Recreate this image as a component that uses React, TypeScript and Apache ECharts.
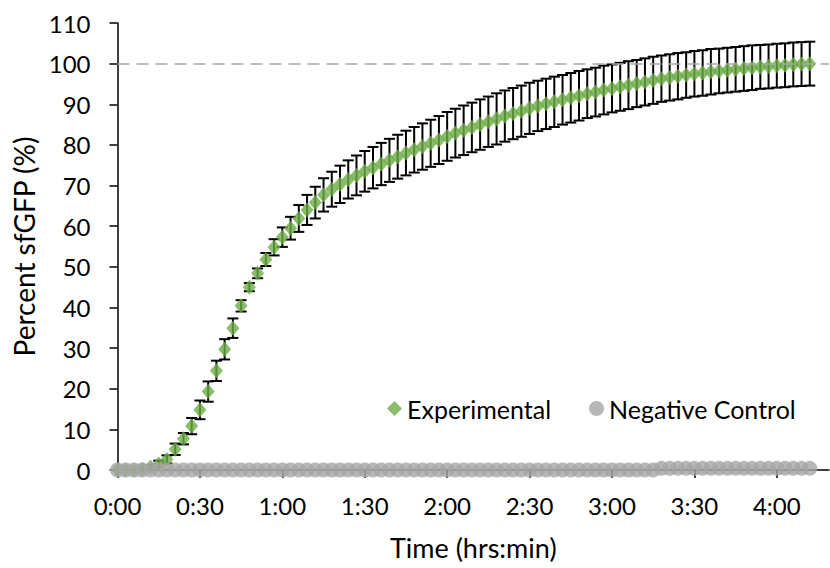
import { useEffect, useRef } from "react";
import * as echarts from "echarts";

// Time in minutes (sampled every 3 min)
const timeMinutes = [
  0, 3, 6, 9, 12, 15, 18, 21, 24, 27, 30, 33, 36, 39, 42, 45, 48, 51, 54, 57,
  60, 63, 66, 69, 72, 75, 78, 81, 84, 87, 90, 93, 96, 99, 102, 105, 108, 111, 114, 117,
  120, 123, 126, 129, 132, 135, 138, 141, 144, 147, 150, 153, 156, 159, 162, 165, 168, 171, 174, 177,
  180, 183, 186, 189, 192, 195, 198, 201, 204, 207, 210, 213, 216, 219, 222, 225, 228, 231, 234, 237,
  240, 243, 246, 249, 252,
];

const experimental = [
  0, 0, 0, 0.2, 0.7, 1.5, 2.6, 5.1, 7.7, 10.8, 14.8, 19.3, 24.4, 29.7, 34.9, 40.4, 45.0, 48.4, 51.8, 54.8,
  57.3, 59.5, 61.9, 64.0, 65.8, 67.7, 69.1, 70.3, 71.5, 72.5, 73.5, 74.4, 75.3, 76.2, 77.1, 78.0, 78.8, 79.6, 80.4, 81.2,
  82.1, 82.9, 83.6, 84.3, 85.0, 85.7, 86.4, 87.1, 87.7, 88.3, 89.0, 89.6, 90.1, 90.6, 91.1, 91.6, 92.1, 92.6, 93.0, 93.5,
  93.9, 94.3, 94.7, 95.1, 95.5, 95.9, 96.3, 96.6, 96.9, 97.2, 97.5, 97.7, 98.0, 98.2, 98.4, 98.6, 98.8, 99.0, 99.2, 99.3,
  99.5, 99.6, 99.8, 99.9, 100.0,
];

const experimentalSD = [
  0, 0, 0, 0.3, 0.5, 0.8, 1.0, 1.4, 1.4, 2.0, 2.3, 2.5, 2.5, 2.5, 2.4, 1.4, 1.0, 1.2, 1.6, 2.0,
  2.4, 2.8, 3.3, 3.7, 3.9, 4.1, 4.3, 4.6, 4.7, 4.9, 5.0, 5.1, 5.2, 5.3, 5.4, 5.5, 5.6, 5.7, 5.8, 5.9,
  6.0, 6.0, 6.1, 6.1, 6.2, 6.2, 6.3, 6.3, 6.3, 6.3, 6.3, 6.2, 6.2, 6.2, 6.1, 6.1, 6.1, 6.0, 6.0, 6.0,
  5.9, 5.9, 5.9, 5.8, 5.8, 5.8, 5.7, 5.7, 5.7, 5.6, 5.6, 5.6, 5.6, 5.5, 5.5, 5.5, 5.5, 5.5, 5.4, 5.4,
  5.4, 5.4, 5.4, 5.4, 5.4,
];

const negativeControl = [
  0, 0, 0, 0, 0, 0, 0, 0, 0, 0, 0, 0, 0, 0, 0, 0, 0, 0, 0, 0,
  0, 0, 0, 0, 0, 0, 0, 0, 0, 0, 0, 0, 0, 0, 0, 0, 0, 0, 0, 0,
  0, 0, 0, 0, 0, 0, 0, 0, 0, 0, 0, 0, 0, 0, 0, 0, 0, 0, 0, 0,
  0, 0, 0, 0, 0, 0, 0.4, 0.4, 0.4, 0.4, 0.4, 0.4, 0.4, 0.4, 0.4, 0.4, 0.4, 0.4, 0.4, 0.4,
  0.4, 0.4, 0.4, 0.4, 0.4,
];

const xTickMinutes = [0, 30, 60, 90, 120, 150, 180, 210, 240];

const FONT = "Lato";
const TEXT = "#000000";

function fmtTime(m: number): string {
  const h = Math.floor(m / 60);
  const mm = Math.round(m % 60);
  return `${h}:${mm < 10 ? "0" + mm : mm}`;
}

export default function App() {
  const ref = useRef<HTMLDivElement>(null);

  useEffect(() => {
    if (!ref.current) return;
    const chart = echarts.init(ref.current, null, { renderer: "svg" });

    const errData = timeMinutes.map((t, i) => [
      t,
      experimental[i] - experimentalSD[i],
      experimental[i] + experimentalSD[i],
      experimentalSD[i],
    ]);

    chart.setOption({
      animation: false,
      backgroundColor: "#ffffff",
      grid: { left: 117.5, right: 1, top: 23, bottom: 98 },
      legend: {
        left: 382,
        top: 391,
        itemWidth: 15,
        itemHeight: 15,
        itemGap: 38,
        textStyle: { fontFamily: FONT, fontSize: 25, color: TEXT },
        data: ["Experimental", "Negative Control"],
      },
      xAxis: {
        type: "value",
        min: 0,
        max: 259,
        interval: 30,
        splitLine: { show: false },
        axisLine: { show: true, lineStyle: { color: "#000", width: 1.5 } },
        axisTick: {
          show: true,
          length: 8,
          lineStyle: { color: "#000", width: 1.5 },
          customValues: xTickMinutes,
        },
        axisLabel: {
          customValues: xTickMinutes,
          formatter: (v: number) => fmtTime(v),
          fontFamily: FONT,
          fontSize: 24,
          color: TEXT,
          margin: 23,
        },
        name: "Time (hrs:min)",
        nameLocation: "middle",
        nameGap: 64,
        nameTextStyle: { fontFamily: FONT, fontSize: 27, color: TEXT },
      },
      yAxis: {
        type: "value",
        min: 0,
        max: 110,
        interval: 10,
        splitLine: { show: false },
        axisLine: { show: true, lineStyle: { color: "#000", width: 1.5 } },
        axisTick: { show: true, length: 8, lineStyle: { color: "#000", width: 1.5 } },
        axisLabel: { fontFamily: FONT, fontSize: 24, color: TEXT, margin: 27 },
        name: "Percent sfGFP (%)",
        nameLocation: "middle",
        nameGap: 78,
        nameTextStyle: { fontFamily: FONT, fontSize: 28, color: TEXT },
      },
      series: [
        {
          type: "custom",
          name: "errors",
          silent: true,
          z: 1,
          data: errData,
          encode: { x: 0, y: [1, 2] },
          renderItem: (params: any, api: any) => {
            const sd = api.value(3);
            if (!sd) return null;
            const t = api.value(0);
            const lo = api.coord([t, api.value(1)]);
            const hi = api.coord([t, api.value(2)]);
            const half = 5.5;
            const style = { stroke: "#000", lineWidth: 2 };
            return {
              type: "group",
              children: [
                { type: "line", shape: { x1: lo[0], y1: lo[1], x2: hi[0], y2: hi[1] }, style },
                { type: "line", shape: { x1: lo[0] - half, y1: lo[1], x2: lo[0] + half, y2: lo[1] }, style },
                { type: "line", shape: { x1: hi[0] - half, y1: hi[1], x2: hi[0] + half, y2: hi[1] }, style },
              ],
            };
          },
        },
        {
          type: "scatter",
          name: "Experimental",
          z: 2,
          symbol: "diamond",
          symbolSize: [13, 15],
          itemStyle: { color: "#6CAC44" },
          data: timeMinutes.map((t, i) => [t, experimental[i]]),
          markLine: {
            silent: true,
            symbol: "none",
            label: { show: false },
            lineStyle: { type: [12, 7], color: "#A6A6A6", width: 1.5 },
            data: [{ yAxis: 100 }],
          },
        },
        {
          type: "scatter",
          name: "Negative Control",
          z: 3,
          symbol: "circle",
          symbolSize: 15,
          itemStyle: { color: "#A5A5A5" },
          data: timeMinutes.map((t, i) => [t, negativeControl[i]]),
        },
      ],
    });

    return () => chart.dispose();
  }, []);

  return (
    <div
      ref={ref}
      style={{ position: "absolute", left: 0, top: 0, width: 830, height: 568 }}
    />
  );
}
